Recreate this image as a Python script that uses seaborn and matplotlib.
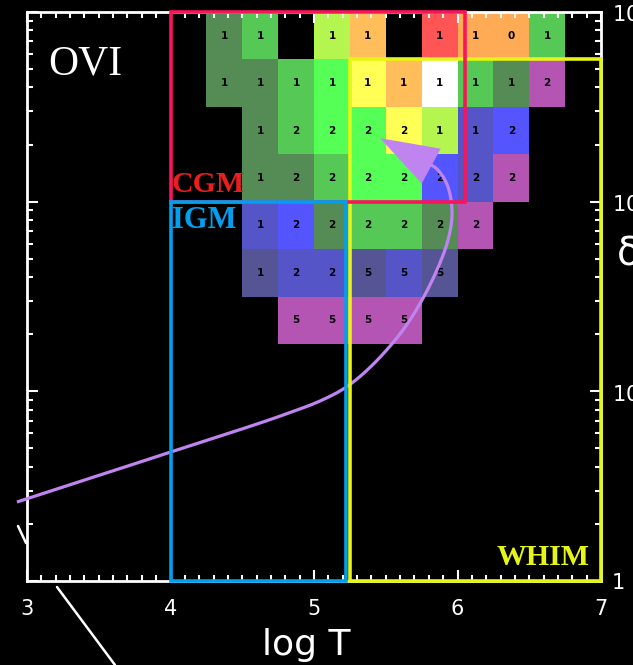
import numpy as np
import matplotlib
matplotlib.use("Agg")
import matplotlib.pyplot as plt
import seaborn as sns
from matplotlib.colors import ListedColormap
from matplotlib.patches import Rectangle
from matplotlib.lines import Line2D
from matplotlib.ticker import MultipleLocator, LogLocator, FixedLocator, FuncFormatter, NullFormatter

# ---------------- data ----------------
logT_bins = [4.25, 4.5, 4.75, 5.0, 5.25, 5.5, 5.75, 6.0, 6.25, 6.5, 6.75]
logd_bins = [3.0, 2.75, 2.5, 2.25, 2.0, 1.75, 1.5, 1.25]  # top -> bottom

color_names = ["dkgreen", "green", "ltgreen", "ygreen", "ltorange", "orange", "red",
               "yellow", "white", "purple", "blue", "slate", "grayslate"]
palette = ["#558c55", "#55c855", "#55ff55", "#b4f550", "#ffbe5a", "#ffaa55", "#ff5555",
           "#ffff55", "#ffffff", "#b455b4", "#5555ff", "#5555c8", "#555596"]

cell_color = [
    ["dkgreen", "green", None, "ygreen", "ltorange", None, "red", "orange", "orange", "green"],
    ["dkgreen", "dkgreen", "green", "ltgreen", "yellow", "ltorange", "white", "green", "dkgreen", "purple"],
    [None, "dkgreen", "green", "ltgreen", "ltgreen", "yellow", "ygreen", "slate", "blue", None],
    [None, "dkgreen", "dkgreen", "green", "ltgreen", "ltgreen", "blue", "slate", "purple", None],
    [None, "slate", "blue", "dkgreen", "green", "green", "dkgreen", "purple", None, None],
    [None, "grayslate", "slate", "slate", "grayslate", "slate", "grayslate", None, None, None],
    [None, None, "purple", "purple", "purple", "purple", None, None, None, None],
]
cell_count = [
    ["1", "1", "", "1", "1", "", "1", "1", "0", "1"],
    ["1", "1", "1", "1", "1", "1", "1", "1", "1", "2"],
    ["", "1", "2", "2", "2", "2", "1", "1", "2", ""],
    ["", "1", "2", "2", "2", "2", "2", "2", "2", ""],
    ["", "1", "2", "2", "2", "2", "2", "2", "", ""],
    ["", "1", "2", "2", "5", "5", "5", "", "", ""],
    ["", "", "5", "5", "5", "5", "", "", "", ""],
]

# regions: (logT_min, logT_max, delta_min, delta_max)
cgm_box = (4.0, 6.05, 100.0, 1000.0)
igm_box = (4.0, 5.22, 1.0, 100.0)
whim_box = (5.25, 7.0, 1.0, 10 ** 2.75)

# evolutionary track (log T, log delta)
track_logT = [2.930, 3.230, 3.509, 3.787, 4.066, 4.345, 4.624, 4.833, 5.042, 5.230, 5.411,
              5.599, 5.739, 5.857, 5.934, 5.962, 5.934, 5.857, 5.753]
track_logd = [0.4165, 0.490, 0.559, 0.627, 0.696, 0.764, 0.833, 0.8883, 0.9490, 1.0254, 1.1414,
              1.3022, 1.4630, 1.640, 1.798, 1.940, 2.077, 2.172, 2.214]
arrow_tip = (5.46, 2.335)

x_ticks = [3, 4, 5, 6, 7]
y_ticks = [1, 10, 100, 1000]

# ---------------- style ----------------
sns.set_style("ticks")
plt.rcParams["font.family"] = ["DejaVu Sans"]

fig = plt.figure(figsize=(6.33, 6.65), dpi=100, facecolor="black")
L, R, Bt, T = 27 / 633, 601 / 633, 1 - 581 / 665, 1 - 12 / 665
ax = fig.add_axes([L, Bt, R - L, T - Bt], zorder=2)
ax.set_facecolor("none")
ax.set_xlim(3, 7)
ax.set_yscale("log")
ax.set_ylim(1, 1000)

for s in ax.spines.values():
    s.set_color("white")
    s.set_linewidth(2.0)

ax.xaxis.set_major_locator(FixedLocator(x_ticks))
ax.xaxis.set_minor_locator(MultipleLocator(0.1))
ax.yaxis.set_major_locator(FixedLocator(y_ticks))
ax.yaxis.set_minor_locator(LogLocator(base=10, subs=np.arange(2, 10)))
ax.yaxis.set_minor_formatter(NullFormatter())
ax.yaxis.set_major_formatter(FuncFormatter(
    lambda v, p: "1" if v == 1 else r"$10^{%d}$" % int(round(np.log10(v)))))
ax.tick_params(which="both", direction="in", colors="white", top=True, right=True,
               left=True, bottom=True, labelleft=False, labelright=True, width=1.5)
ax.tick_params(which="major", length=8, labelsize=15)
ax.tick_params(axis="x", which="major", pad=13)
ax.tick_params(axis="y", which="major", pad=8)
ax.tick_params(which="minor", length=4)
ax.set_xlabel("log T", color="white", fontsize=26)
ax.xaxis.set_label_coords((306 - 27) / 574, (581 - 628) / 569)

# ---------------- heatmap cells ----------------
fig.canvas.draw()
inv = fig.transFigure.inverted()
p0 = inv.transform(ax.transData.transform((logT_bins[0], 10 ** logd_bins[-1])))
p1 = inv.transform(ax.transData.transform((logT_bins[-1], 10 ** logd_bins[0])))
ax_hm = fig.add_axes([p0[0], p0[1], p1[0] - p0[0], p1[1] - p0[1]], zorder=1)
ax_hm.set_facecolor("none")

mat = np.array([[np.nan if c is None else color_names.index(c) for c in row] for row in cell_color], dtype=float)
annot = np.array(cell_count, dtype=object)
sns.heatmap(mat, ax=ax_hm, cmap=ListedColormap(palette), vmin=-0.5, vmax=len(palette) - 0.5,
            mask=np.isnan(mat), annot=annot, fmt="", cbar=False, linewidths=0,
            annot_kws={"color": "black", "fontsize": 7.5, "fontweight": "bold"})
ax_hm.set_axis_off()

# ---------------- track ----------------
def catmull_rom(px, py, n=30):
    P = np.column_stack([px, py])
    P = np.vstack([P[0], P, P[-1]])
    out = []
    t = np.linspace(0, 1, n, endpoint=False)[:, None]
    for i in range(1, len(P) - 2):
        a, b, c, d = P[i - 1], P[i], P[i + 1], P[i + 2]
        out.append(0.5 * (2 * b + (-a + c) * t + (2 * a - 5 * b + 4 * c - d) * t ** 2
                          + (-a + 3 * b - 3 * c + d) * t ** 3))
    out.append(P[-2][None])
    return np.vstack(out)

cur = catmull_rom(track_logT, track_logd)
track_col = "#c084f0"
ax.plot(cur[:, 0], 10 ** cur[:, 1], color=track_col, lw=2.3, clip_on=False, zorder=3,
        solid_capstyle="butt")
ax.annotate("", xy=(arrow_tip[0], 10 ** arrow_tip[1]),
            xytext=(track_logT[-1], 10 ** track_logd[-1]),
            arrowprops=dict(arrowstyle="-|>,head_length=1.0,head_width=0.34",
                            mutation_scale=42, color=track_col, lw=0,
                            shrinkA=0, shrinkB=0), zorder=4)

# ---------------- region boxes ----------------
for (x0, x1, y0, y1), col in [(whim_box, "#e6f514"), (cgm_box, "#fa145a"), (igm_box, "#00a0f0")]:
    ax.add_patch(Rectangle((x0, y0), x1 - x0, y1 - y0, fill=False, edgecolor=col,
                           lw=2.6, zorder=5, clip_on=False))

serif = ["Liberation Serif", "DejaVu Serif"]
ax.text(0.2526, 0.6837, "CGM", transform=ax.transAxes, color="#eb1e1e", fontsize=21.5,
        fontweight="bold", family=serif, va="baseline", ha="left", zorder=6)
ax.text(0.2526, 0.6204, "IGM", transform=ax.transAxes, color="#00a0f0", fontsize=22,
        fontweight="bold", family=serif, va="baseline", ha="left", zorder=6)
ax.text(0.819, 0.0281, "WHIM", transform=ax.transAxes, color="#e6f514", fontsize=21.5,
        fontweight="bold", family=serif, va="baseline", ha="left", zorder=6)
ax.text(0.0366, 0.8893, "OVI", transform=ax.transAxes, color="white", fontsize=30,
        family=serif, va="baseline", ha="left", zorder=6)

# y label (delta), cut by figure edge like the reference
fig.text(617 / 633, 1 - 255 / 665, "δ", color="white", fontsize=28, ha="left", va="center")

# stray white diagonal strokes outside the frame
fig.add_artist(Line2D([57 / 633, 115 / 633], [1 - 587 / 665, 1 - 665 / 665], color="white", lw=1.8))
fig.add_artist(Line2D([18 / 633, 26 / 633], [1 - 526 / 665, 1 - 543 / 665], color="white", lw=1.8))

fig.savefig("out.png", dpi=100, facecolor="black")
